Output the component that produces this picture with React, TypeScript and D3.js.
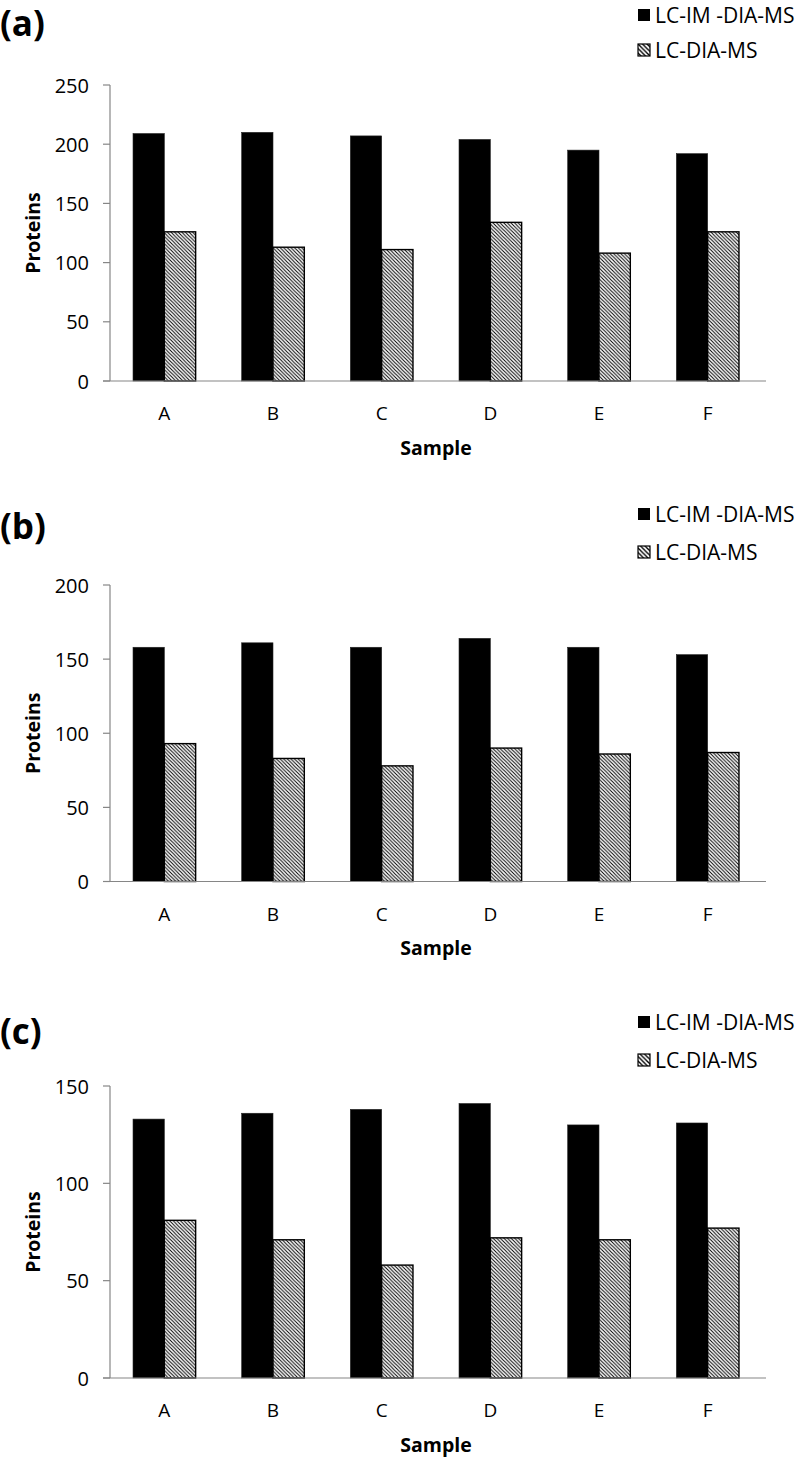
import React from 'react';
import * as d3 from 'd3';

const categories = ['A', 'B', 'C', 'D', 'E', 'F'];
const seriesNames = ['LC-IM -DIA-MS', 'LC-DIA-MS'];
const panelLabels = ['(a)', '(b)', '(c)'];

const imValuesA = [209, 210, 207, 204, 195, 192];
const diaValuesA = [126, 113, 111, 134, 108, 126];
const imValuesB = [158, 161, 158, 164, 158, 153];
const diaValuesB = [93, 83, 78, 90, 86, 87];
const imValuesC = [133, 136, 138, 141, 130, 131];
const diaValuesC = [81, 71, 58, 72, 71, 77];

const yTicksA = [0, 50, 100, 150, 200, 250];
const yTicksB = [0, 50, 100, 150, 200];
const yTicksC = [0, 50, 100, 150];

const xAxisTitle = 'Sample';
const yAxisTitle = 'Proteins';

const FONT = "'Open Sans', 'Liberation Sans', sans-serif";
const AXIS_COLOR = '#868686';

const layouts = [
  { top: 85, bottom: 381, labelY: 22, legendY: [15, 50] },
  { top: 585, bottom: 881.5, labelY: 525, legendY: [514, 552] },
  { top: 1086, bottom: 1378, labelY: 1030, legendY: [1022, 1060] },
];

const panelData = [
  { im: imValuesA, dia: diaValuesA, ticks: yTicksA },
  { im: imValuesB, dia: diaValuesB, ticks: yTicksB },
  { im: imValuesC, dia: diaValuesC, ticks: yTicksC },
];

export default function App() {
  const x = d3.scaleBand<string>().domain(categories).range([110, 762]).padding(0);
  const inner = d3
    .scaleBand<string>()
    .domain(seriesNames)
    .range([0, x.bandwidth()])
    .paddingInner(0)
    .paddingOuter(0.735);

  return (
    <svg
      width={800}
      height={1457}
      style={{ position: 'absolute', left: 0, top: 0, background: '#fff' }}
      fontFamily={FONT}
    >
      <defs>
        <pattern id="hatch" patternUnits="userSpaceOnUse" width={3.6} height={3.6}>
          <rect width={3.6} height={3.6} fill="#fff" />
          <path d="M-1,-1 L4.6,4.6 M-1,2.6 L1,4.6 M2.6,-1 L4.6,1" stroke="#000" strokeWidth={1.0} />
        </pattern>
        <pattern id="hatchLegend" patternUnits="userSpaceOnUse" width={4.5} height={4.5}>
          <rect width={4.5} height={4.5} fill="#fff" />
          <path d="M-1,-1 L5.5,5.5 M-1,3.5 L1,5.5 M3.5,-1 L5.5,1" stroke="#000" strokeWidth={1.4} />
        </pattern>
      </defs>
      {panelData.map((p, pi) => {
        const L = layouts[pi];
        const y = d3
          .scaleLinear()
          .domain([0, d3.max(p.ticks) as number])
          .range([L.bottom, L.top]);
        const x0 = x.range()[0];
        const x1 = x.range()[1];
        return (
          <g key={pi}>
            <text x={0} y={L.labelY} fontSize={35} fontWeight="bold" dominantBaseline="central">
              {panelLabels[pi]}
            </text>
            {/* legend */}
            {seriesNames.map((s, si) => (
              <g key={s}>
                <rect
                  x={638}
                  y={L.legendY[si] - 6}
                  width={12}
                  height={12}
                  fill={si === 0 ? '#000' : 'url(#hatchLegend)'}
                  stroke={si === 0 ? 'none' : '#000'}
                  strokeWidth={1.2}
                />
                <text x={655} y={L.legendY[si]} fontSize={21} dominantBaseline="central">
                  {s}
                </text>
              </g>
            ))}
            {/* bars */}
            {categories.map((c, ci) => {
              const bx = x(c) as number;
              const vals = [p.im[ci], p.dia[ci]];
              return (
                <g key={c}>
                  {seriesNames.map((s, si) => (
                    <rect
                      key={s}
                      x={bx + (inner(s) as number)}
                      y={y(vals[si])}
                      width={inner.bandwidth()}
                      height={y(0) - y(vals[si])}
                      fill={si === 0 ? '#000' : 'url(#hatch)'}
                      stroke={si === 0 ? '#222' : '#000'}
                      strokeWidth={si === 0 ? 0.6 : 1.4}
                    />
                  ))}
                </g>
              );
            })}
            {/* y axis */}
            <line x1={x0} x2={x0} y1={y(d3.max(p.ticks) as number)} y2={y(0)} stroke={AXIS_COLOR} strokeWidth={1.2} />
            {p.ticks.map((t) => (
              <g key={t}>
                <line x1={x0 - 7} x2={x0} y1={y(t)} y2={y(t)} stroke={AXIS_COLOR} strokeWidth={1.2} />
                <text x={89} y={y(t)} fontSize={20} textAnchor="end" dominantBaseline="central">
                  {t}
                </text>
              </g>
            ))}
            {/* x axis */}
            <line x1={x0 - 7} x2={x1 + 4} y1={y(0)} y2={y(0)} stroke={AXIS_COLOR} strokeWidth={1.2} />
            {categories.map((c) => (
              <text
                key={c}
                x={(x(c) as number) + x.bandwidth() / 2}
                y={y(0) + 32}
                fontSize={19}
                textAnchor="middle"
                dominantBaseline="central"
              >
                {c}
              </text>
            ))}
            <text
              x={436}
              y={y(0) + 66}
              fontSize={19.5}
              fontWeight="bold"
              textAnchor="middle"
              dominantBaseline="central"
            >
              {xAxisTitle}
            </text>
            <text
              transform={`translate(32,${(L.top + L.bottom) / 2}) rotate(-90)`}
              fontSize={19.5}
              fontWeight="bold"
              textAnchor="middle"
              dominantBaseline="central"
            >
              {yAxisTitle}
            </text>
          </g>
        );
      })}
    </svg>
  );
}
